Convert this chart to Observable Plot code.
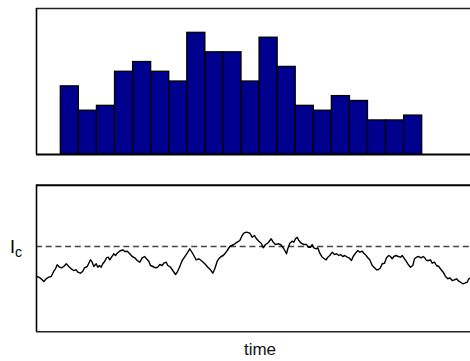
<!DOCTYPE html>
<html>
<head>
<meta charset="utf-8">
<script src="https://cdn.jsdelivr.net/npm/d3@7"></script>
<script src="https://cdn.jsdelivr.net/npm/@observablehq/plot@0.6"></script>
<style>
  html, body { margin: 0; padding: 0; background: #fff; }
  #chart svg { display: block; }
</style>
</head>
<body>
<div id="chart"></div>
<script>
// Histogram counts per time bin
const counts = [14, 9, 10, 17, 19, 17, 15, 25, 21, 21, 15, 24, 18, 10, 9, 12, 11, 7, 7, 8];
const binStart = 24.3;   // time at first bin edge
const binWidth = 18.07;  // time units per bin
const timeMax = 434;
const countMax = 30;

// Random-walk trace (time, level)
const times = [0,2.3,4.7,7.3,9.7,12.3,14.7,17.3,19,20.7,23,25,27.3,29.7,32.3,34.7,37.3,39.7,41.3,44,46.3,48,50.7,52.3,54,55.7,57.3,59.7,61.3,63,64.7,66.3,68.3,70,71.7,73.3,75,77.3,79,80.7,83,84.7,86.3,88.3,90.7,93.3,95.7,98.3,100.7,103.3,105.7,108,110,112.3,114,116.3,119,121.3,123.3,125.7,127.3,129.7,131.3,134,136.3,139,140.7,143,145.7,148,150.7,153.3,155,157.3,159.7,162.3,164.7,166.7,169,171.3,174,176.3,178.3,180.7,182.3,184.7,186.7,188.3,190.7,193.3,197.3,200.7,203.3,205.7,207.3,210,213.3,215.7,218,220,222.3,224.7,226.7,229,231.3,233.3,234.7,236.7,239,241.3,244,246.3,248.3,250,251.3,253.3,255.7,257.3,259,260.7,262.3,264.7,267.3,270,271.7,274,275.7,277.3,279.7,281.3,283.3,285.7,288,289.7,291.3,293.3,295.7,298,300,302.3,304,306.3,308.3,310.7,313,315,316.7,319,321.3,323.3,325.7,327.3,329.7,331.3,333.3,335.7,338,340,341.7,344,345.7,348,350,352.3,354,355.7,357.3,359.7,361.7,364,365.7,367.3,369.7,371.7,374,376.3,378,380,382.3,384.7,386.7,388.3,390,392.3,394,395.7,398,400,402.3,404.7,406.7,409,411.3,413.3,415.7,418,420,422.3,424,426.3,428.3,430.7,432.3,434];
const levels = [55.3,54.6,53.0,50.3,53.0,54.6,55.3,60.6,63.0,67.0,64.6,64.0,65.3,68.0,65.3,63.0,61.3,62.0,59.6,58.6,60.6,64.0,65.3,68.6,72.0,69.6,65.3,68.0,64.6,66.3,64.6,68.0,70.6,74.0,74.6,72.0,74.6,78.0,76.3,78.6,80.6,81.3,82.0,80.3,80.6,78.0,75.3,74.0,71.3,69.6,74.0,75.3,73.0,70.6,66.3,65.3,64.0,64.6,67.3,66.3,68.6,69.6,66.3,64.6,61.3,57.3,59.6,64.6,71.3,74.6,78.6,83.0,80.3,76.3,72.0,73.0,71.3,69.6,67.3,64.6,62.0,58.6,63.0,70.6,73.0,75.3,76.3,78.0,81.3,85.3,87.3,89.6,91.3,96.3,98.6,99.6,98.6,94.6,96.3,93.0,90.6,88.6,84.0,87.3,88.6,91.3,93.0,89.6,87.3,88.0,87.3,84.6,81.3,78.0,83.0,88.6,90.6,89.6,93.0,94.6,91.3,88.6,87.3,87.3,84.6,84.6,87.3,84.0,83.0,84.0,78.6,74.6,73.0,72.0,74.6,76.3,79.6,77.3,78.0,76.3,77.3,75.3,76.3,74.6,73.6,71.3,75.3,78.6,81.3,79.6,80.6,78.6,76.3,74.0,72.0,66.3,64.0,62.0,62.0,64.0,68.0,68.6,74.0,76.3,75.3,73.0,75.3,76.3,75.3,74.6,76.3,74.0,70.6,67.3,64.6,66.3,73.0,74.6,75.3,74.0,75.3,74.0,71.3,71.3,72.0,68.6,69.6,66.3,65.3,62.0,59.6,55.3,53.0,54.0,51.3,52.0,53.0,50.6,49.6,48.0,48.6,49.6,53.0,54.0];
const levelMax = 146.6;
const criticalLevel = 85.3;
const criticalLabel = "I";
const criticalSub = "c";
const xLabel = "time";

const bins = counts.map((c, i) => ({x1: binStart + i * binWidth, x2: binStart + (i + 1) * binWidth, count: c}));
const walk = times.map((t, i) => ({t, v: levels[i]}));

const font = "'Liberation Sans', Arial, sans-serif";

const histPlot = Plot.plot({
  width: 470, height: 170,
  marginTop: 8, marginBottom: 16, marginLeft: 36, marginRight: 0,
  style: {fontFamily: font, background: "#fff"},
  x: {domain: [0, timeMax], axis: null},
  y: {domain: [0, countMax], axis: null},
  marks: [
    Plot.rectY(bins, {x1: "x1", x2: "x2", y: "count", fill: "#00008e", stroke: "#000", strokeWidth: 1.3}),
    Plot.ruleY([countMax], {stroke: "#222", strokeWidth: 1.5}),
    Plot.ruleY([0], {stroke: "#000", strokeWidth: 2}),
    Plot.ruleX([0], {stroke: "#000", strokeWidth: 1.6})
  ]
});

const walkPlot = Plot.plot({
  width: 470, height: 191,
  marginTop: 14.7, marginBottom: 29.7, marginLeft: 36, marginRight: 0,
  style: {fontFamily: font, background: "#fff", overflow: "visible"},
  x: {domain: [0, timeMax], axis: null},
  y: {domain: [0, levelMax], axis: null},
  marks: [
    Plot.ruleY([criticalLevel], {stroke: "#444", strokeWidth: 1.3, strokeDasharray: "6,3.7"}),
    Plot.line(walk, {x: "t", y: "v", stroke: "#000", strokeWidth: 1.4}),
    Plot.ruleY([levelMax], {stroke: "#000", strokeWidth: 2}),
    Plot.ruleY([0], {stroke: "#222", strokeWidth: 1.6}),
    Plot.ruleX([0], {stroke: "#000", strokeWidth: 1.6}),
    Plot.text([criticalLabel], {x: 0, y: criticalLevel, text: d => d, textAnchor: "start", dx: -26.5, dy: 1, fontSize: 18, fill: "#000"}),
    Plot.text([criticalSub], {x: 0, y: criticalLevel, text: d => d, textAnchor: "start", dx: -21.5, dy: 6, fontSize: 14, fill: "#000"}),
    Plot.text([xLabel], {frameAnchor: "bottom", text: d => d, dx: 6.5, dy: 23, fontSize: 17, fill: "#111"})
  ]
});

document.getElementById("chart").append(histPlot, walkPlot);
</script>
</body>
</html>
